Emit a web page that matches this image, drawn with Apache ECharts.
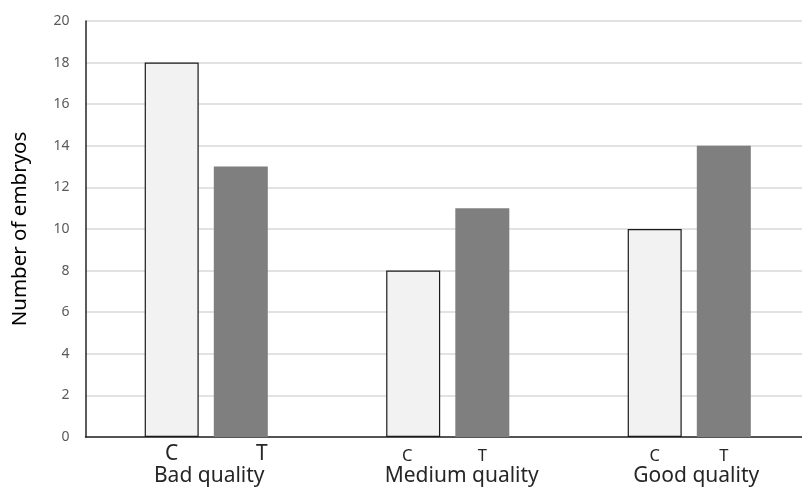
<!DOCTYPE html>
<html><head><meta charset="utf-8">
<script src="https://cdn.jsdelivr.net/npm/echarts@6/dist/echarts.min.js"></script>
<style>html,body{margin:0;padding:0;background:#fff;overflow:hidden;width:802px;height:488px}#c{width:812px;height:488px}</style>
</head><body><div id="c"></div>
<script>
const categories = ['Bad quality', 'Medium quality', 'Good quality'];
const cValues = [18, 8, 10];
const tValues = [13, 11, 14];
const seriesNames = ['C', 'T'];
const yTicks = [0, 2, 4, 6, 8, 10, 12, 14, 16, 18, 20];

const font = 'Noto Sans';
const bigIdx = 0; // first group's C/T labels are drawn larger
const groupShift = [6, 28, 14];
const labelShift = { C: [0, -6, 0], T: [21, 0, 0] };

function mkData(vals, name) {
  return vals.map((v, i) => ({
    value: v,
    label: i === bigIdx
      ? { fontSize: 21, distance: 7, offset: [labelShift[name][i], 0] }
      : { fontSize: 16.5, distance: 11, offset: [labelShift[name][i], 0] }
  }));
}

const chart = echarts.init(document.getElementById('c'), null, { renderer: 'canvas' });
chart.setOption({
  animation: false,
  textStyle: { fontFamily: font },
  grid: { left: 85.5, right: 2, top: 21, bottom: 51, containLabel: false },
  xAxis: {
    type: 'category',
    data: categories.map((c, i) => ({ value: c, textStyle: { padding: [0, 0, 0, groupShift[i]] } })),
    axisLine: { lineStyle: { color: '#262626', width: 1.5 } },
    axisTick: { show: false },
    axisLabel: { color: '#262626', fontSize: 21, margin: 29, fontFamily: font }
  },
  yAxis: {
    type: 'value', min: yTicks[0], max: yTicks[yTicks.length - 1], interval: 2,
    name: 'Number of embryos', nameLocation: 'middle', nameGap: 55,
    nameTextStyle: { color: '#000', fontSize: 20.5, fontFamily: font },
    axisLine: { show: true, lineStyle: { color: '#262626', width: 1.5 } },
    axisTick: { show: false },
    axisLabel: { color: '#595959', fontSize: 14, margin: 16, fontFamily: font },
    splitLine: { lineStyle: { color: '#d9d9d9', width: 1.5 } }
  },
  series: [
    {
      name: seriesNames[0], type: 'bar', data: mkData(cValues, 'C'),
      barWidth: 54, barGap: '28%',
      itemStyle: { color: '#f2f2f2', borderColor: '#1a1a1a', borderWidth: 1.2 },
      label: { show: true, position: 'bottom', formatter: seriesNames[0], color: '#262626', fontFamily: font }
    },
    {
      name: seriesNames[1], type: 'bar', data: mkData(tValues, 'T'),
      barWidth: 54, barGap: '28%',
      itemStyle: { color: '#7f7f7f' },
      label: { show: true, position: 'bottom', formatter: seriesNames[1], color: '#262626', fontFamily: font }
    }
  ]
});
</script></body></html>
